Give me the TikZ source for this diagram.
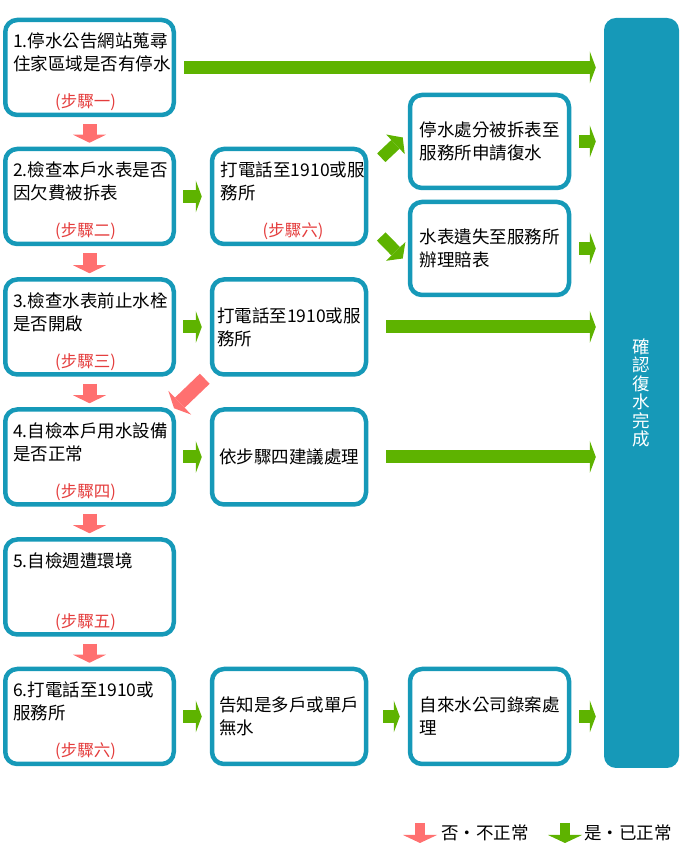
\documentclass[tikz,border=0pt]{standalone}
\usepackage{fontspec}
\setmainfont{Noto Sans CJK TC}
\usetikzlibrary{arrows.meta}

\definecolor{boxteal}{RGB}{22,153,184}
\definecolor{okgreen}{RGB}{94,179,0}
\definecolor{nopink}{RGB}{255,112,112}
\definecolor{steprd}{RGB}{228,60,60}

\tikzset{
  box/.style={draw=boxteal,line width=4.5pt,rounded corners=12pt,minimum height=95pt,
    inner sep=0pt,align=left,font=\fontsize{17.5}{23}\selectfont},
  leftbox/.style={box,minimum width=168.5pt},
  midbox/.style={box,minimum width=154pt},
  rightbox/.style={box,minimum width=159pt},
  txt/.style={inner sep=0pt,anchor=north west,align=left,font=\fontsize{17.5}{23}\selectfont},
  steplbl/.style={inner sep=0pt,text=steprd,font=\fontsize{16.5}{20}\selectfont},
  legtxt/.style={inner sep=0pt,anchor=west,font=\fontsize{17.5}{20}\selectfont},
  okarr/.style={draw=okgreen,line width=13pt,-{Triangle[length=6pt,width=32pt,line width=0pt]},
    shorten <=7pt,shorten >=8pt},
  okdiag/.style={draw=okgreen,line width=12pt,-{Triangle[length=10pt,width=27pt,line width=0pt]}},
  noarr/.style={draw=nopink,line width=14pt,-{Triangle[length=8pt,width=33pt,line width=0pt]},
    shorten <=7pt,shorten >=4pt},
  legarr/.style={line width=10pt,-{Triangle[length=8pt,width=34pt,line width=0pt]}}
}

\begin{document}
\begin{tikzpicture}[x=1pt,y=1pt]
  \useasboundingbox (0,0) rectangle (680,850);

  % left column: the six steps
  \node[leftbox] (s1) at (89.5,782.5) {};
  \node[leftbox] (s2) at (89.5,653.5) {};
  \node[leftbox] (s3) at (89.5,523) {};
  \node[leftbox] (s4) at (89.5,393) {};
  \node[leftbox] (s5) at (89.5,263) {};
  \node[leftbox] (s6) at (89.5,133.5) {};

  \node[txt] (s1t) at ([shift={(10,-15)}]s1.north west) {1.停水公告網站蒐尋\\住家區域是否有停水};
  \node[txt] (s2t) at ([shift={(10,-15)}]s2.north west) {2.檢查本戶水表是否\\因欠費被拆表};
  \node[txt] (s3t) at ([shift={(10,-15)}]s3.north west) {3.檢查水表前止水栓\\是否開啟};
  \node[txt] (s4t) at ([shift={(10,-15)}]s4.north west) {4.自檢本戶用水設備\\是否正常};
  \node[txt] (s5t) at ([shift={(10,-15)}]s5.north west) {5.自檢週遭環境};
  \node[txt] (s6t) at ([shift={(10,-15)}]s6.north west) {6.打電話至1910或\\服務所};

  \node[steplbl] (s1l) at ([shift={(-4,15)}]s1.south) {(步驟一)};
  \node[steplbl] (s2l) at ([shift={(-4,15)}]s2.south) {(步驟二)};
  \node[steplbl] (s3l) at ([shift={(-4,15)}]s3.south) {(步驟三)};
  \node[steplbl] (s4l) at ([shift={(-4,15)}]s4.south) {(步驟四)};
  \node[steplbl] (s5l) at ([shift={(-4,15)}]s5.south) {(步驟五)};
  \node[steplbl] (s6l) at ([shift={(-4,15)}]s6.south) {(步驟六)};

  % middle column
  \node[midbox] (m2) at (289,653.5) {};
  \node[txt] (m2t) at ([shift={(11,-15)}]m2.north west) {打電話至1910或服\\務所};
  \node[steplbl] (m2l) at ([shift={(4,15)}]m2.south) {(步驟六)};
  \node[midbox] (m3) at (289,523) {打電話至1910或服\\務所};
  \node[midbox] (m4) at (289,393) {依步驟四建議處理};
  \node[midbox] (m6) at (289,133.5) {告知是多戶或單戶\\無水};

  % right column
  \node[rightbox,minimum height=93pt] (r1) at (489.5,708.5) {停水處分被拆表至\\服務所申請復水};
  \node[rightbox,minimum height=93pt] (r2) at (489.5,601.5) {水表遺失至服務所\\辦理賠表};
  \node[rightbox] (r6) at (489.5,133.5) {自來水公司錄案處\\理};

  \node[fill=boxteal,rounded corners=12pt,minimum width=75pt,minimum height=750pt,inner sep=0pt,
    text=white,align=center,font=\fontsize{17.5}{18.5}\selectfont] (done) at (641.5,457)
    {確\\認\\復\\水\\完\\成};

  % yes arrows
  \draw[okarr,shorten <=8pt] (s1) -- (s1 -| done.west);
  \draw[okarr] (s2) -- (m2);
  \draw[okarr] (s3) -- (m3);
  \draw[okarr] (s4) -- (m4);
  \draw[okarr] (s6) -- (m6);
  \draw[okarr,shorten <=18pt] (m3) -- (m3 -| done.west);
  \draw[okarr,shorten <=18pt] (m4) -- (m4 -| done.west);
  \draw[okarr,shorten <=15pt] (m6) -- (r6);
  \draw[okarr,shorten <=8pt] (r1) -- (r1 -| done.west);
  \draw[okarr,shorten <=8pt] (r2) -- (r2 -| done.west);
  \draw[okarr,shorten <=8pt] (r6) -- (r6 -| done.west);
  \draw[okdiag] ([shift={(13,-11)}]m2.north east) -- ([shift={(-5,4)}]r1.west);
  \draw[okdiag] ([shift={(13,-40)}]m2.east) -- ([shift={(-5,-10)}]r2.west);

  % no arrows
  \draw[noarr] (s1) -- (s2);
  \draw[noarr] (s2) -- (s3);
  \draw[noarr] (s3) -- (s4);
  \draw[noarr] (s4) -- (s5);
  \draw[noarr] (s5) -- (s6);
  \draw[noarr,shorten <=0pt,shorten >=0pt] ([shift={(-5,-2)}]m3.south west) -- ([shift={(-2,-1)}]s4.north east);

  % legend
  \coordinate (lgnotop) at (420,27);
  \coordinate (lgnobot) at (420,7);
  \coordinate (lgoktop) at (565,27);
  \coordinate (lgokbot) at (565,7);
  \draw[legarr,draw=nopink] (lgnotop) -- (lgnobot);
  \draw[legarr,draw=okgreen] (lgoktop) -- (lgokbot);
  \node[legtxt] (lgno) at (441,17) {否‧不正常};
  \node[legtxt] (lgok) at (584,17) {是‧已正常};
\end{tikzpicture}
\end{document}
